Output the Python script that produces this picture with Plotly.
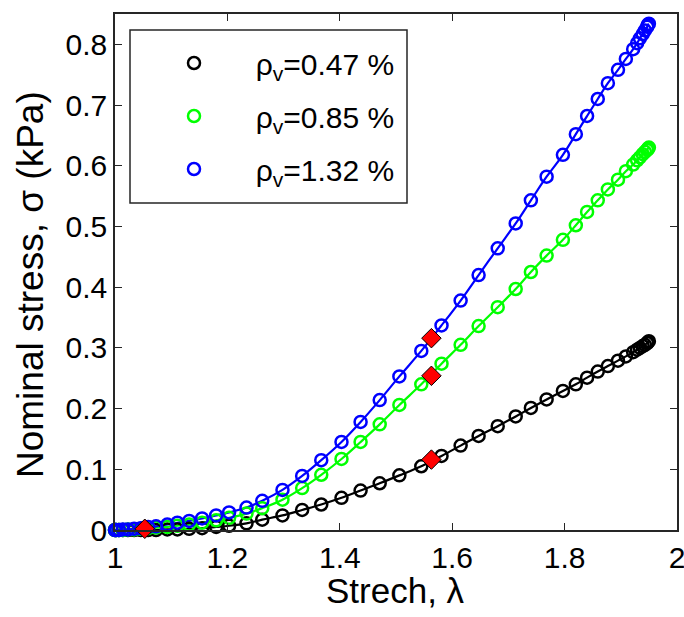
import plotly.graph_objects as go

# Stretch grid (shared by all three series)
stretch = [1.000, 1.002, 1.007, 1.014, 1.023, 1.034, 1.046, 1.059, 1.073, 1.093,
           1.111, 1.132, 1.155, 1.180, 1.203, 1.234, 1.262, 1.298, 1.333, 1.367,
           1.403, 1.437, 1.471, 1.506, 1.545, 1.581, 1.615, 1.647, 1.681, 1.713,
           1.740, 1.768, 1.797, 1.820, 1.840, 1.859, 1.877, 1.895, 1.909, 1.922,
           1.929, 1.934, 1.939, 1.943, 1.947, 1.948, 1.950]

stress_047 = [0.000, 0.000, 0.000, 0.000, 0.000, 0.000, 0.000, 0.000, 0.000, 0.001,
              0.001, 0.002, 0.003, 0.005, 0.007, 0.011, 0.017, 0.024, 0.033, 0.042,
              0.053, 0.065, 0.077, 0.090, 0.105, 0.122, 0.139, 0.155, 0.171, 0.187,
              0.201, 0.215, 0.229, 0.240, 0.251, 0.261, 0.270, 0.279, 0.286, 0.293,
              0.297, 0.300, 0.303, 0.305, 0.308, 0.309, 0.311]

stress_085 = [0.000, 0.000, 0.000, 0.000, 0.001, 0.001, 0.002, 0.003, 0.004, 0.005,
              0.007, 0.009, 0.012, 0.016, 0.020, 0.027, 0.036, 0.050, 0.069, 0.091,
              0.117, 0.145, 0.174, 0.206, 0.240, 0.274, 0.305, 0.336, 0.367, 0.397,
              0.425, 0.452, 0.478, 0.502, 0.524, 0.543, 0.561, 0.577, 0.591, 0.602,
              0.609, 0.614, 0.619, 0.623, 0.626, 0.628, 0.630]

stress_132 = [0.000, 0.000, 0.000, 0.001, 0.001, 0.002, 0.003, 0.005, 0.006, 0.009,
              0.012, 0.015, 0.019, 0.024, 0.029, 0.037, 0.048, 0.066, 0.089, 0.115,
              0.145, 0.178, 0.214, 0.253, 0.295, 0.337, 0.378, 0.420, 0.464, 0.505,
              0.543, 0.582, 0.618, 0.652, 0.682, 0.710, 0.736, 0.758, 0.776, 0.792,
              0.802, 0.810, 0.817, 0.823, 0.829, 0.832, 0.834]

# Red diamond markers
mark_stretch = [1.053, 1.563, 1.563, 1.563]
mark_stress = [0.002, 0.116, 0.254, 0.316]

x_ticks = [1, 1.2, 1.4, 1.6, 1.8, 2]
x_tick_text = ["1", "1.2", "1.4", "1.6", "1.8", "2"]
y_ticks = [0, 0.1, 0.2, 0.3, 0.4, 0.5, 0.6, 0.7, 0.8]
y_tick_text = ["0", "0.1", "0.2", "0.3", "0.4", "0.5", "0.6", "0.7", "0.8"]

series = [
    ("ρ<sub>v</sub>=0.47 %", stress_047, "#000000"),
    ("ρ<sub>v</sub>=0.85 %", stress_085, "#00ff00"),
    ("ρ<sub>v</sub>=1.32 %", stress_132, "#0000ff"),
]

FONT = "Liberation Sans, Arial, Helvetica, sans-serif"
fig = go.Figure()

for i, (name, ys, col) in enumerate(series):
    fig.add_trace(go.Scatter(
        x=stretch, y=ys, mode="lines", line=dict(color=col, width=2.2, shape="spline"),
        showlegend=False, hoverinfo="skip", cliponaxis=False))
for i, (name, ys, col) in enumerate(series):
    fig.add_trace(go.Scatter(
        x=stretch, y=ys, mode="markers", name="\u00a0" * 5 + name,
        legendgroup=f"g{i}",
        marker=dict(symbol="circle-open", size=12, color=col, line=dict(width=2.5, color=col)),
        cliponaxis=False))

fig.add_trace(go.Scatter(
    x=mark_stretch, y=mark_stress, mode="markers", showlegend=False,
    marker=dict(symbol="diamond", size=15, color="#ff0000", line=dict(width=1, color="#000000")),
    cliponaxis=False))

L, R, T, B = 115, 7, 14, 87
W, H = 684, 617
pw, ph = W - L - R, H - T - B

def px_x(p):
    return (p - L) / pw

def px_y(p):
    return 1 - (p - T) / ph

fig.add_shape(type="rect", xref="paper", yref="paper",
              x0=px_x(130), x1=px_x(407), y0=px_y(203), y1=px_y(30),
              line=dict(color="#262626", width=1.5), fillcolor="white", layer="below")

fig.add_annotation(text="Strech, λ", xref="paper", yref="paper",
                   x=px_x(395), y=px_y(590), xanchor="center", yanchor="middle",
                   showarrow=False, font=dict(family=FONT, size=35, color="#000000"))
fig.add_annotation(text="Nominal stress, σ (kPa)", xref="paper", yref="paper",
                   x=px_x(30), y=px_y(285), xanchor="center", yanchor="middle",
                   textangle=-90, showarrow=False,
                   font=dict(family=FONT, size=37, color="#000000"))

axis_common = dict(
    showline=True, linecolor="#262626", linewidth=1.5, mirror="ticks",
    ticks="inside", ticklen=7, tickwidth=1.2, tickcolor="#262626",
    showgrid=False, zeroline=False, automargin=False,
    tickfont=dict(family=FONT, size=30, color="#000000"),
    ticklabeloverflow="allow",
)

fig.update_layout(
    width=W, height=H,
    margin=dict(l=L, r=R, t=T, b=B),
    paper_bgcolor="white", plot_bgcolor="white",
    font=dict(family=FONT, color="#000000"),
    xaxis=dict(range=[1, 2], tickvals=x_ticks, ticktext=x_tick_text,
               ticklabelstandoff=0, **axis_common),
    yaxis=dict(range=[0, 0.85], tickvals=y_ticks, ticktext=y_tick_text,
               ticklabelstandoff=0, **axis_common),
    legend=dict(x=px_x(174), y=px_y(37), xanchor="left", yanchor="top",
                bgcolor="rgba(0,0,0,0)", borderwidth=0,
                font=dict(family=FONT, size=30, color="#000000"),
                traceorder="grouped", tracegroupgap=11, itemwidth=30),
)

fig.write_html("out.html", config={"displayModeBar": False},
               post_script="document.body.style.margin='0';document.body.style.overflow='hidden';")
